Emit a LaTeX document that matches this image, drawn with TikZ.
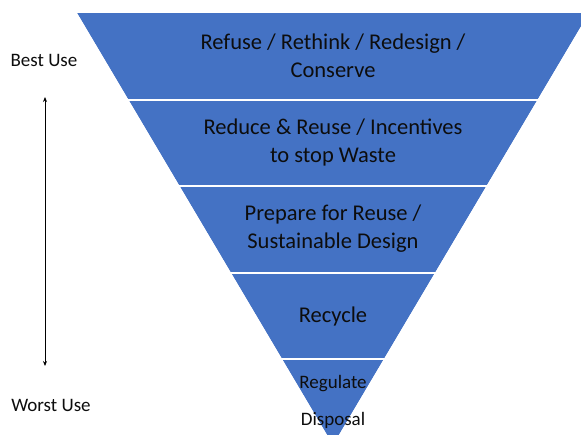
\documentclass[tikz,border=0pt]{standalone}
\usepackage{fontspec}
\setmainfont{Carlito}
\usepackage{xcolor}
\usetikzlibrary{arrows.meta}

\definecolor{officeblue}{HTML}{4472C4}

\begin{document}
\begin{tikzpicture}[x=1pt, y=-1pt,
        level/.style={font=\fontsize{22.5}{28.5}\selectfont, align=center, text=black!95},
        side/.style={font=\fontsize{19}{23}\selectfont, text=black!95}]
        \useasboundingbox (0,0) rectangle (581,434);

        % Parameters
        \def\topY{13}        % top edge of the funnel
        \def\apexX{333}      % x of the tip
        \def\apexY{445}      % y of the tip (below the page)
        \def\halfTop{256}    % half width at the top

        % Funnel
        \begin{scope}
            \clip (0,0) rectangle (581,434);
            \fill[officeblue] (\apexX-\halfTop,\topY) -- (\apexX+\halfTop,\topY) -- (\apexX,\apexY) -- cycle;
            % separators between the levels
            \foreach \y in {99.5,186,272.5,359} {
                \draw[white, line width=2pt] (0,\y) -- (581,\y);
            }
        \end{scope}
        % white margins beside the funnel
        \fill[white] (0,\topY) -- (\apexX-\halfTop,\topY) -- (\apexX,\apexY) -- (0,\apexY) -- cycle;
        \fill[white] (581,\topY) -- (\apexX+\halfTop,\topY) -- (\apexX,\apexY) -- (581,\apexY) -- cycle;

        % Levels
        \node[level] (refuse) at (\apexX, 56) {Refuse / Rethink / Redesign /\\Conserve};
        \node[level] (reduce) at (\apexX, 142.5) {Reduce \& Reuse / Incentives\\to stop Waste};
        \node[level] (prepare) at (\apexX, 228.5) {Prepare for Reuse /\\Sustainable Design};
        \node[level] (recycle) at (\apexX, 316) {Recycle};
        \node[side] (regulate) at (\apexX, 384) {Regulate};
        \node[side] (disposal) at (\apexX, 420) {Disposal};

        % Scale on the left
        \node[side] (best) at (44, 60) {Best Use};
        \node[side] (worst) at (51, 405) {Worst Use};
        \coordinate (scaletop) at (45, 97);
        \coordinate (scalebot) at (45, 366);
        \draw[{Stealth[length=5pt, width=4pt]}-{Stealth[length=5pt, width=4pt]}, line width=0.9pt] (scaletop) -- (scalebot);

    \end{tikzpicture}
\end{document}
